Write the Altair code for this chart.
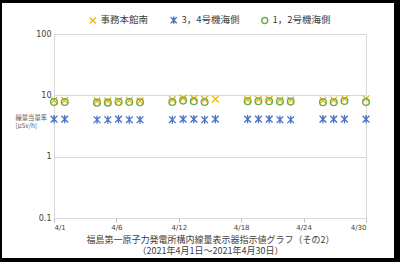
import altair as alt
import pandas as pd

# ---- data ----
dates = ["4/1", "4/2", "4/5", "4/6", "4/7", "4/8", "4/9",
         "4/12", "4/13", "4/14", "4/15", "4/16",
         "4/19", "4/20", "4/21", "4/22", "4/23",
         "4/26", "4/27", "4/28", "4/30"]
jimu_honkan_minami = [8.3, 8.3, 8.1, 8.1, 8.2, 8.3, 8.1,
                      8.5, 9.0, 8.9, 8.6, 8.7,
                      8.5, 8.6, 8.6, 8.4, 8.4,
                      8.3, 8.4, 8.8, 8.8]
unit34_umigawa = [4.1, 4.1, 4.0, 4.0, 4.1, 4.0, 4.0,
                  4.0, 4.1, 4.1, 4.0, 4.1,
                  4.1, 4.1, 4.1, 4.0, 4.0,
                  4.1, 4.1, 4.1, 4.1]
unit12_umigawa = [7.8, 7.8, 7.6, 7.6, 7.8, 7.8, 7.7,
                  7.8, 8.2, 8.0, 7.8, None,
                  8.0, 8.0, 8.0, 7.9, 7.9,
                  7.7, 7.7, 8.1, 7.8]

series_names = ["事務本館南", "3，4号機海側", "1，2号機海側"]
series_colors = ["#F5B300", "#4472C4", "#70AD47"]
series_shapes = ["M-1,-1L1,1M-1,1L1,-1",
                 "M-1,-1L1,1M-1,1L1,-1M0,-1.2L0,1.2",
                 "circle"]

x_tick_days = [1, 6.8, 12.6, 18.4, 24.2, 30]
y_tick_values = [0.1, 1, 10, 100]

x_title = ["福島第一原子力発電所構内線量表示器指示値グラフ（その2）",
           "（2021年4月1日～2021年4月30日）"]
y_title = ["線量当量率", "[μSv/h]"]

rows = []
for name, vals in zip(series_names, [jimu_honkan_minami, unit34_umigawa, unit12_umigawa]):
    for d, v in zip(dates, vals):
        if v is None:
            continue
        rows.append({"day": int(d.split("/")[1]), "series": name, "value": v})
df = pd.DataFrame(rows)

JP = "Noto Sans CJK JP"
NUM = "DejaVu Sans"

legend_def = alt.Legend(
    title=None, orient="none", direction="horizontal",
    legendX=34, legendY=-19, padding=0,
    columnPadding=18, labelOffset=3,
    symbolSize=36, symbolStrokeWidth=1.4,
    labelFont=JP, labelFontSize=9.5, labelColor="#404040",
)

points = alt.Chart(df).mark_point(filled=False, strokeWidth=1.3, size=46, opacity=1).encode(
    x=alt.X("day:Q",
            scale=alt.Scale(domain=[1, 30], nice=False, zero=False),
            axis=alt.Axis(values=x_tick_days, labelExpr="'4/' + floor(datum.value)",
                          grid=False, domain=False, ticks=True, tickSize=4,
                          tickColor="#BFBFBF", labelFont=NUM, labelFontSize=7,
                          labelColor="#404040", labelPadding=1,
                          title=x_title, titleFont=JP, titleFontSize=9,
                          titleFontWeight="normal", titleColor="#404040",
                          titleLineHeight=11.5, titleBaseline="top", titleY=17)),
    y=alt.Y("value:Q",
            scale=alt.Scale(type="log", domain=[0.1, 100], nice=False),
            axis=alt.Axis(values=y_tick_values, format="~g", grid=True,
                          gridColor="#D9D9D9", domain=False, ticks=False, tickSize=0,
                          labelFont=NUM, labelFontSize=8, labelColor="#404040",
                          labelPadding=3,
                          title=y_title, titleFont=JP, titleFontSize=6.3,
                          titleFontWeight="normal", titleColor="#595959",
                          titleAngle=0, titleAlign="left", titleBaseline="top",
                          titleX=-39, titleY=80, titleLineHeight=8.5)),
    color=alt.Color("series:N", scale=alt.Scale(domain=series_names, range=series_colors),
                    legend=legend_def),
    shape=alt.Shape("series:N", scale=alt.Scale(domain=series_names, range=series_shapes),
                    legend=legend_def),
)

one = alt.Data(values=[{"k": 1}])

def bar(x1, x2, y1, y2):
    return alt.Chart(one).mark_rect(color="black").encode(
        x=alt.value(x1), x2=alt.value(x2), y=alt.value(y1), y2=alt.value(y2))

frame = [
    bar(-54, -52, -34, 228),   # left
    bar(-54, 346, -34, -31),   # top
    bar(340, 346, -34, 228),   # right
    bar(-54, 346, 224, 228),   # bottom
]

chart = alt.layer(points, *frame).properties(
    width=312, height=184,
    autosize=alt.AutoSizeParams(type="none"),
    padding={"left": 54, "top": 34, "right": 34, "bottom": 44},
    background="white",
).configure_view(stroke="#D9D9D9", strokeWidth=1)

chart.save("out.html", embed_options={"renderer": "svg", "actions": False})
